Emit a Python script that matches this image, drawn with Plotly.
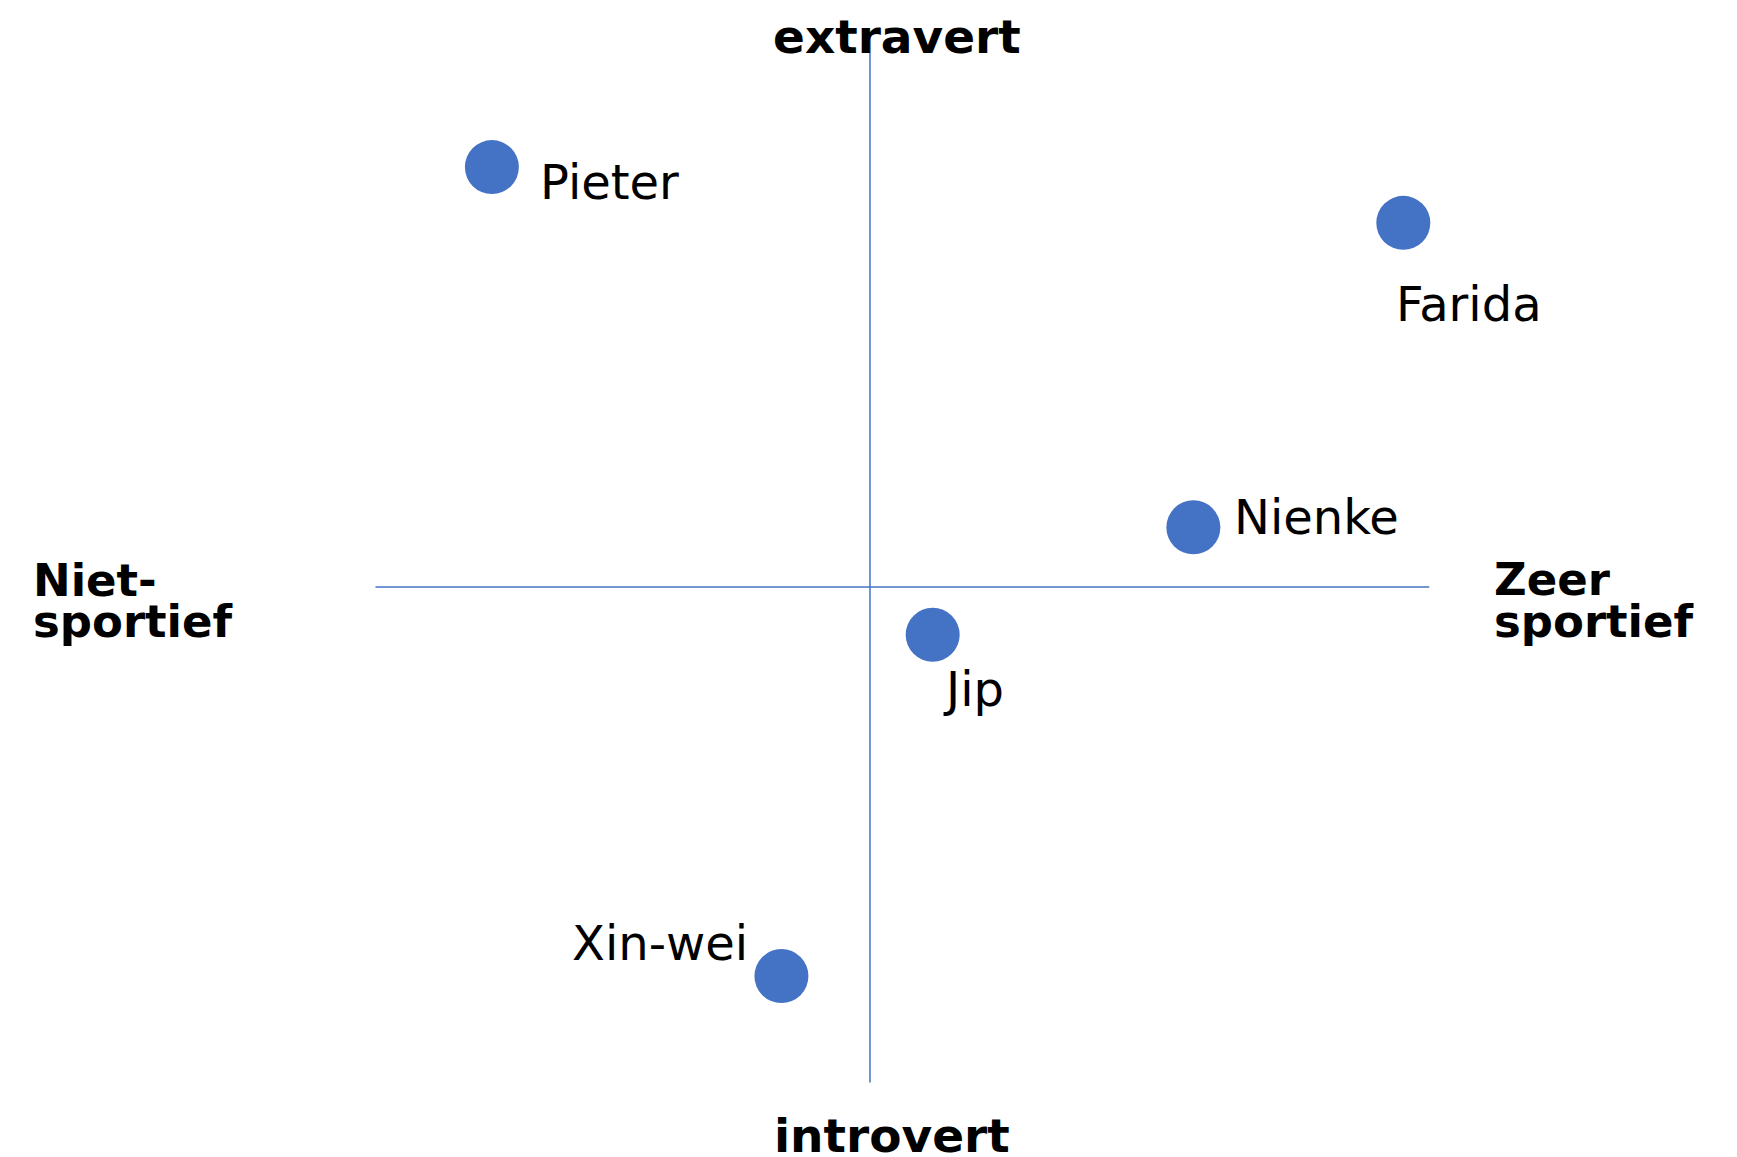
import plotly.graph_objects as go

# Data (units on the personality map)
names = ["Pieter", "Farida", "Nienke", "Jip", "Xin-wei"]
sportief = [-3.80, 5.36, 3.25, 0.63, -0.89]
extravert = [4.22, 3.66, 0.60, -0.48, -3.91]

# axis extents
x_axis_x = [-4.97, 5.62]
x_axis_y = [0, 0]
y_axis_x = [0, 0]
y_axis_y = [5.55, -4.98]

BLUE = "#4472C4"

fig = go.Figure()
fig.add_trace(go.Scatter(x=x_axis_x, y=x_axis_y, mode="lines",
                         line=dict(color=BLUE, width=1.5), hoverinfo="skip"))
fig.add_trace(go.Scatter(x=y_axis_x, y=y_axis_y, mode="lines",
                         line=dict(color=BLUE, width=1.5), hoverinfo="skip"))
fig.add_trace(go.Scatter(x=sportief, y=extravert, mode="markers", text=names,
                         marker=dict(color=BLUE, size=54, line=dict(width=0))))

# label placement (xanchor, xshift, yshift) per point
label_pos = {
    "Pieter": ("left", 46, -15),
    "Farida": ("left", -9, -81),
    "Nienke": ("left", 39, 10),
    "Jip": ("left", 8, -54),
    "Xin-wei": ("right", -31, 33),
}
for n, xv, yv in zip(names, sportief, extravert):
    xa, xs, ys = label_pos[n]
    fig.add_annotation(x=xv, y=yv, xref="x", yref="y", text=n, showarrow=False,
                       xanchor=xa, yanchor="middle", xshift=xs, yshift=ys,
                       font=dict(family="DejaVu Sans", size=48, color="black"))

titles = [
    ("<b>extravert</b>", 0.27, 5.53, "center", 47),
    ("<b>introvert</b>", 0.22, -5.51, "center", 47),
    ("<b>Niet-</b>", -8.43, 0.07, "left", 45),
    ("<b>sportief</b>", -8.43, -0.35, "left", 45),
    ("<b>Zeer</b>", 6.25, 0.08, "left", 45),
    ("<b>sportief</b>", 6.25, -0.35, "left", 45),
]
for t, xv, yv, xa, fs in titles:
    fig.add_annotation(x=xv, y=yv, xref="x", yref="y", text=t, showarrow=False,
                       xanchor=xa, yanchor="middle",
                       font=dict(family="DejaVu Sans", size=fs, color="black"))

fig.update_layout(
    width=1737, height=1157,
    margin=dict(l=0, r=0, t=0, b=0),
    paper_bgcolor="white", plot_bgcolor="white",
    showlegend=False,
    xaxis=dict(range=[-8.663, 8.794], visible=False, fixedrange=True),
    yaxis=dict(range=[-5.809, 5.819], visible=False, fixedrange=True),
)
fig.write_html("out.html")
